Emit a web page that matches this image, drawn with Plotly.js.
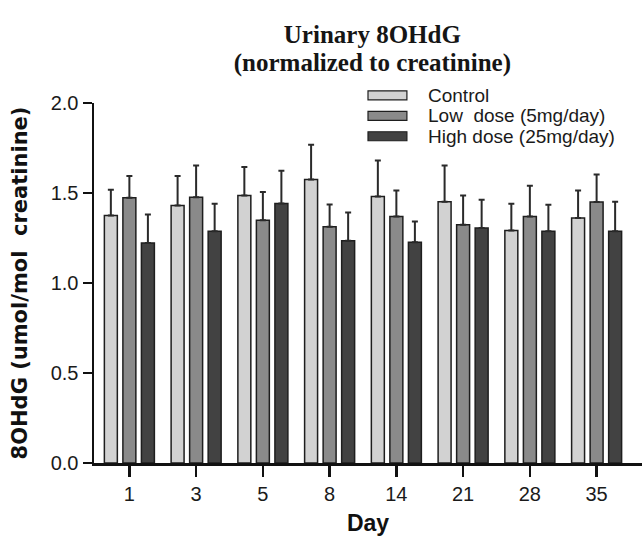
<!DOCTYPE html>
<html>
<head>
<meta charset="utf-8">
<script src="https://cdn.plot.ly/plotly-3.0.1.min.js"></script>
<style>html,body{margin:0;padding:0;background:#fff;}#chart{width:642px;height:537px;}</style>
</head>
<body>
<div id="chart"></div>
<script>
// Data
const days = ["1", "3", "5", "8", "14", "21", "28", "35"];
const seriesNames = ["Control", "Low  dose (5mg/day)", "High dose (25mg/day)"];
const controlMean = [1.375, 1.431, 1.486, 1.575, 1.481, 1.451, 1.292, 1.361];
const controlErr  = [0.143, 0.163, 0.159, 0.193, 0.199, 0.202, 0.148, 0.153];
const lowMean     = [1.473, 1.477, 1.348, 1.313, 1.370, 1.324, 1.370, 1.450];
const lowErr      = [0.121, 0.176, 0.157, 0.123, 0.144, 0.162, 0.170, 0.153];
const highMean    = [1.222, 1.287, 1.442, 1.235, 1.226, 1.305, 1.287, 1.287];
const highErr     = [0.159, 0.153, 0.181, 0.157, 0.116, 0.157, 0.148, 0.164];
const yTicks = [0, 0.5, 1.0, 1.5, 2.0];

const colors = ["#d2d2d2", "#8a8a8a", "#424242"];
const means = [controlMean, lowMean, highMean];
const errs = [controlErr, lowErr, highErr];

const traces = means.map((m, i) => ({
  type: "bar",
  x: days,
  y: m,
  name: seriesNames[i],
  showlegend: false,
  marker: {color: colors[i], line: {color: "#1e1e1e", width: 1.5}},
  error_y: {type: "data", symmetric: false, array: errs[i], arrayminus: errs[i].map(() => 0),
            color: "#2a2a2a", thickness: 2, width: 3}
}));

// manual legend (swatches + text) in paper coordinates
const legY = [1.0214, 0.9645, 0.9076];
const shapes = [];
const annotations = [];
seriesNames.forEach((n, i) => {
  shapes.push({type: "rect", xref: "paper", yref: "paper",
    x0: 0.5, x1: 0.571, y0: legY[i] - 0.0125, y1: legY[i] + 0.0125,
    fillcolor: colors[i], line: {color: "#1e1e1e", width: 1.2}});
  annotations.push({xref: "paper", yref: "paper", x: 0.606, y: legY[i],
    xanchor: "left", yanchor: "middle", showarrow: false, text: n,
    font: {family: "Liberation Sans, Arial, sans-serif", size: 19, color: "#1a1a1a"}});
});

const layout = {
  width: 642, height: 537,
  margin: {l: 94, r: 0, t: 103, b: 74, pad: 0},
  paper_bgcolor: "#fff", plot_bgcolor: "#fff",
  barmode: "group", bargap: 0.1675, bargroupgap: 0.3,
  title: {text: "<span style='font-size:25px'>Urinary 8OHdG</span><br><span style='font-size:25px'>(normalized to creatinine)</span>",
    font: {family: "Liberation Serif, Times New Roman, serif", size: 21, color: "#151515", weight: "bold"},
    x: 0.58, xanchor: "center", xref: "container", y: 0.919, yanchor: "top", yref: "container"},
  xaxis: {
    range: [-0.53, 7.68], type: "category",
    showline: true, linecolor: "#111", linewidth: 2.5,
    ticks: "outside", ticklen: 11, tickwidth: 2.5, tickcolor: "#111",
    showgrid: false, zeroline: false,
    tickfont: {family: "Liberation Sans, Arial, sans-serif", size: 20, color: "#1a1a1a"},
    title: {text: "Day", standoff: 12,
      font: {family: "Liberation Sans, Arial, sans-serif", size: 23, color: "#111", weight: "bold"}}
  },
  yaxis: {
    range: [0, 2], tickvals: yTicks, tickformat: ".1f",
    showline: true, linecolor: "#111", linewidth: 2.5,
    ticks: "outside", ticklen: 9, tickwidth: 2.5, tickcolor: "#111",
    showgrid: false, zeroline: false,
    tickfont: {family: "Liberation Sans, Arial, sans-serif", size: 20, color: "#1a1a1a"},
    title: {text: "8OHdG (umol/mol  creatinine)", standoff: 18,
      font: {family: "DejaVu Sans, sans-serif", size: 21, color: "#111", weight: "bold"}}
  },
  shapes: shapes,
  annotations: annotations
};

Plotly.newPlot("chart", traces, layout, {staticPlot: true, displayModeBar: false});
</script>
</body>
</html>
